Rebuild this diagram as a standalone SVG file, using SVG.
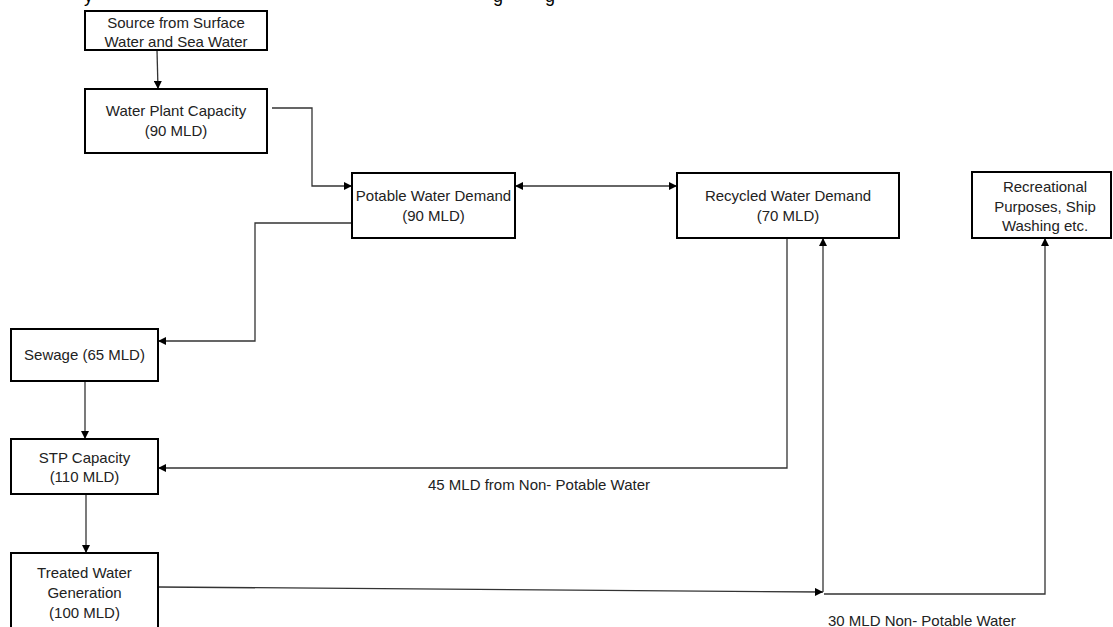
<svg xmlns="http://www.w3.org/2000/svg" width="1113" height="627" viewBox="0 0 1113 627">
<defs>
<style>
.box{fill:#fff;stroke:#000;stroke-width:2}
.t{font-family:"Liberation Sans",Arial,sans-serif;font-size:15px;fill:#222;text-anchor:middle}
.tl{font-family:"Liberation Sans",Arial,sans-serif;font-size:15px;fill:#222}
.tt{font-family:"Liberation Sans",Arial,sans-serif;font-size:18px;fill:#000}
.c{fill:none;stroke:#333;stroke-width:1.3}
</style>
<marker id="arr" viewBox="0 0 10 10" refX="10" refY="5" markerWidth="9" markerHeight="8" markerUnits="userSpaceOnUse" orient="auto-start-reverse">
<path d="M0,0 L10,5 L0,10 z" fill="#000"/>
</marker>
</defs>
<rect width="1113" height="627" fill="#fff"/>
<g id="title-fragments">
<text class="tt" x="84" y="2">y</text>
<text class="tt" x="493" y="2">g</text>
<text class="tt" x="545" y="2">g</text>
</g>
<g id="connectors">
<path class="c" d="M157,50 L158,89" marker-end="url(#arr)"/>
<path class="c" d="M272,108 H312 V186 H352" marker-end="url(#arr)"/>
<path class="c" d="M515,186 H677" marker-start="url(#arr)" marker-end="url(#arr)"/>
<path class="c" d="M352,223 H255 V341 H158" marker-end="url(#arr)"/>
<path class="c" d="M85,381 V439" marker-end="url(#arr)"/>
<path class="c" d="M86,494 V553" marker-end="url(#arr)"/>
<path class="c" d="M787,238 V468 H158" marker-end="url(#arr)"/>
<path class="c" d="M158,587 L823,592" marker-end="url(#arr)"/>
<path class="c" d="M823,592 V238" marker-end="url(#arr)"/>
<path class="c" d="M824,594 H1045 V238" marker-end="url(#arr)"/>
<text class="tl" x="428" y="490">45 MLD from Non- Potable Water</text>
<text class="tl" x="828" y="626">30 MLD Non- Potable Water</text>
</g>
<g id="source">
<rect class="box" x="85" y="11" width="182" height="39"/>
<text class="t" x="176" y="27.5">Source from Surface</text>
<text class="t" x="176" y="46.5">Water and Sea Water</text>
</g>
<g id="water-plant">
<rect class="box" x="85" y="89" width="182" height="64"/>
<text class="t" x="176" y="116">Water Plant Capacity</text>
<text class="t" x="176" y="136">(90 MLD)</text>
</g>
<g id="potable">
<rect class="box" x="352" y="173" width="163" height="65"/>
<text class="t" x="433.5" y="201">Potable Water Demand</text>
<text class="t" x="433.5" y="221">(90 MLD)</text>
</g>
<g id="recycled">
<rect class="box" x="677" y="173" width="222" height="65"/>
<text class="t" x="788" y="201">Recycled Water Demand</text>
<text class="t" x="788" y="221">(70 MLD)</text>
</g>
<g id="recreational">
<rect class="box" x="972" y="172" width="139" height="66"/>
<text class="t" x="1045" y="192">Recreational</text>
<text class="t" x="1045" y="211.5">Purposes, Ship</text>
<text class="t" x="1045" y="230.5">Washing etc.</text>
</g>
<g id="sewage">
<rect class="box" x="11" y="329" width="147" height="52"/>
<text class="t" x="84.5" y="359.5">Sewage (65 MLD)</text>
</g>
<g id="stp">
<rect class="box" x="11" y="439" width="147" height="55"/>
<text class="t" x="84.5" y="462.5">STP Capacity</text>
<text class="t" x="84.5" y="481.5">(110 MLD)</text>
</g>
<g id="treated">
<rect class="box" x="11" y="553" width="147" height="80"/>
<text class="t" x="84.5" y="577.5">Treated Water</text>
<text class="t" x="84.5" y="597.5">Generation</text>
<text class="t" x="84.5" y="617.5">(100 MLD)</text>
</g>
</svg>
